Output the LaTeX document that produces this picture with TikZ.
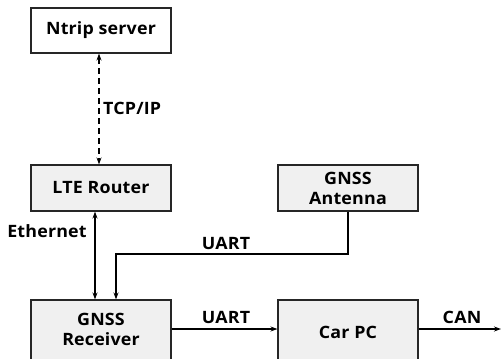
\documentclass[tikz,border=0pt]{standalone}
\usepackage{fontspec}
\setmainfont{Open Sans}[FakeStretch=1.05,LetterSpace=1]
\usetikzlibrary{arrows.meta}
\begin{document}
\begin{tikzpicture}[x=1pt,y=-1pt,
  box/.style={draw=black!85,line width=1.1pt,minimum width=140pt,inner sep=0pt,align=center,font=\bfseries\fontsize{17}{20}\selectfont},
  gbox/.style={box,fill=black!6},
  lbl/.style={font=\bfseries\fontsize{17}{20}\selectfont,inner sep=0pt},
  conn/.style={line width=1.4pt,-{Stealth[length=7pt,width=5pt]}},
  bconn/.style={line width=1.4pt,{Stealth[length=7pt,width=5pt]}-{Stealth[length=7pt,width=5pt]}}]
\useasboundingbox (0,0) rectangle (502,358);
\clip (0,0) rectangle (502,358);
\node[box,fill=white,minimum height=45pt] (ntrip) at (101,30.5) {Ntrip server};
\node[gbox,minimum height=46pt] (lte) at (101,188) {LTE Router};
\node[gbox,minimum height=46pt] (ant) at (348,188) {GNSS\\Antenna};
\node[gbox,minimum height=62pt] (rx) at (101,331) {};
\node[lbl,align=center] (rxt) at (101,329) {GNSS\\Receiver};
\node[gbox,minimum height=62pt] (pc) at (348,331) {};
\node[lbl] (pct) at (348,332) {Car PC};
\coordinate (c1) at (348,254);
\coordinate (c2) at (116,254);
\coordinate (can) at (501,329);
\draw[bconn,dashed,dash pattern=on 6pt off 4pt] (ntrip.south -| 99,0) -- (lte.north -| 99,0);
\draw[bconn] (lte.south -| 95,0) -- (rx.north -| 95,0);
\draw[conn] (ant.south) -- (c1) -- (c2) -- (rx.north -| c2);
\draw[conn] (rx.east |- 0,329) -- (pc.west |- 0,329);
\draw[conn] (pc.east |- 0,329) -- (can);
\node[lbl,anchor=west] (tcp) at (103,108) {TCP/IP};
\node[lbl] (eth) at (47,231) {Ethernet};
\node[lbl] (u1) at (226,243) {UART};
\node[lbl] (u2) at (226,317) {UART};
\node[lbl] (cant) at (462,317) {CAN};
\end{tikzpicture}
\end{document}
